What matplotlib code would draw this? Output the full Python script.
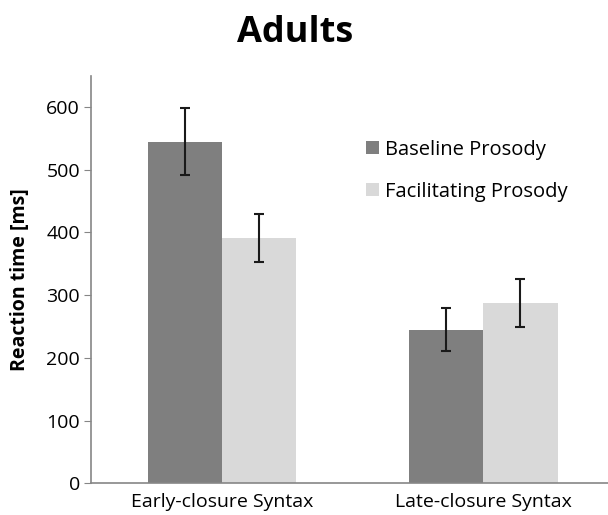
import matplotlib.pyplot as plt
import numpy as np

categorias = ["Early-closure Syntax", "Late-closure Syntax"]
legenda = ["Baseline Prosody", "Facilitating Prosody"]
baseline = [545, 244]
baseline_inf = [492, 211]
baseline_sup = [599, 279]
facilitating = [391, 288]
facilitating_inf = [353, 250]
facilitating_sup = [430, 326]
cores = ["#7f7f7f", "#d9d9d9"]

plt.rcParams['font.family'] = ['Open Sans', 'DejaVu Sans']

fig = plt.figure(figsize=(6.08, 5.15), dpi=100)
ax = fig.add_axes([0.150, 0.0616, 0.860, 0.7914])

x = np.arange(len(categorias))
w = 0.284
erro_b = [np.array(baseline) - np.array(baseline_inf), np.array(baseline_sup) - np.array(baseline)]
erro_f = [np.array(facilitating) - np.array(facilitating_inf), np.array(facilitating_sup) - np.array(facilitating)]
ax.bar(x - w / 2, baseline, w, color=cores[0], label=legenda[0], zorder=2)
ax.bar(x + w / 2, facilitating, w, color=cores[1], label=legenda[1], zorder=2)
ax.errorbar(x - w / 2, baseline, yerr=erro_b, fmt='none', ecolor='#1a1a1a', elinewidth=1.5, capsize=3.8, capthick=1.5, zorder=3)
ax.errorbar(x + w / 2, facilitating, yerr=erro_f, fmt='none', ecolor='#1a1a1a', elinewidth=1.5, capsize=3.8, capthick=1.5, zorder=3)

ax.set_xlim(-0.5, 1.5)
ax.set_ylim(0, 650)
ax.set_yticks(range(0, 700, 100))
ax.set_xticks(x)
ax.set_xticklabels(categorias, fontsize=14)
ax.tick_params(axis='y', labelsize=14, length=5, color='#868686', pad=3)
ax.tick_params(axis='x', length=0, pad=7)
for s in ['top', 'right']:
    ax.spines[s].set_visible(False)
for s in ['left', 'bottom']:
    ax.spines[s].set_color('#868686')
    ax.spines[s].set_linewidth(1.2)

ax.set_ylabel('Reaction time [ms]', fontsize=14, fontweight='bold', labelpad=12)
fig.text(0.486, 0.935, 'Adults', fontsize=26, fontweight='bold', ha='center', va='center')

ax.legend(loc='upper left', bbox_to_anchor=(0.572, 0.764), bbox_transform=fig.transFigure,
          frameon=False, fontsize=14.5, handlelength=0.65, handleheight=0.65,
          handletextpad=0.3, labelspacing=1.1)

plt.savefig('out.png', dpi=100)
